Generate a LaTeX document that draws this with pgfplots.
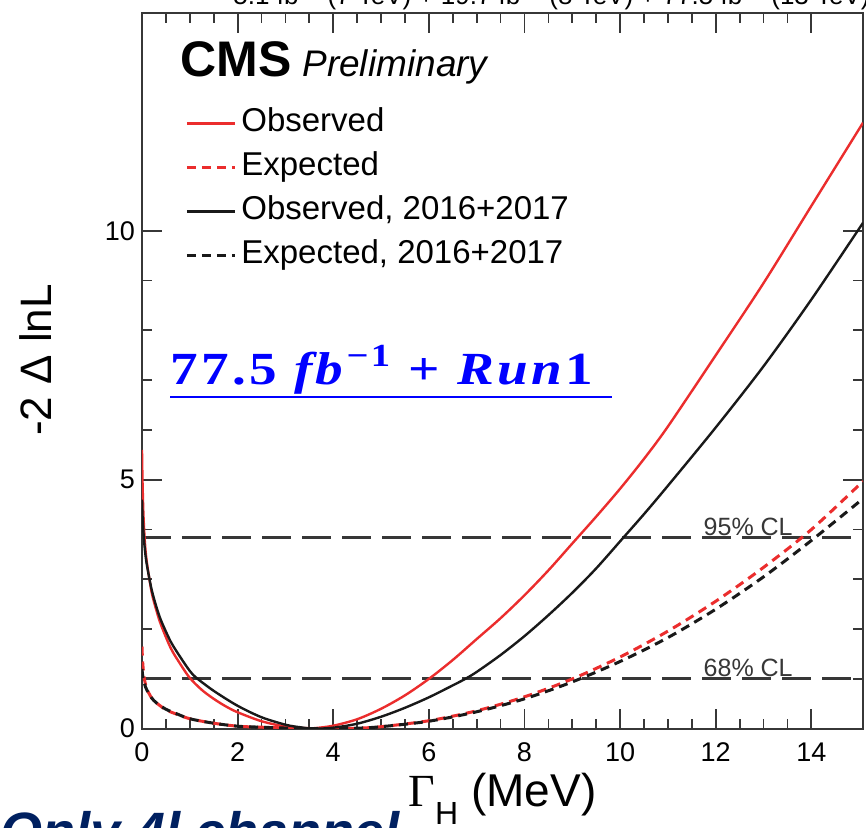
\documentclass[border=0pt]{standalone}
\usepackage{pgfplots}
\pgfplotsset{compat=1.18}
\usepackage{fontspec}
\setmainfont{Liberation Sans}
\newfontfamily\seriffont{Liberation Serif}
\newfontfamily\blueserif[LetterSpace=6]{Liberation Serif}
\definecolor{obsred}{RGB}{235,45,45}
\definecolor{framecol}{RGB}{55,55,55}
\definecolor{navy}{RGB}{0,32,96}

\begin{document}
\begin{tikzpicture}
\begin{axis}[
  at={(0,0)}, anchor=south west,
  scale only axis, width=360.5pt, height=358pt,
  xmin=0, xmax=15.08, ymin=0, ymax=14.38,
  xtick={0,2,...,14}, ytick={0,5,10},
  minor x tick num=3, minor y tick num=4,
  tick align=inside,
  major tick length=10pt, minor tick length=5pt,
  axis line style={line width=1.1pt, framecol},
  tick style={line width=0.9pt, framecol},
  ticklabel style={font=\fontsize{13.5}{14}\selectfont},
  /pgf/number format/assume math mode=true,
  xticklabel style={yshift=-3.5pt},
  xlabel={{\seriffont Γ}\raisebox{-9pt}{\fontsize{16}{16}\selectfont H} (MeV)},
  xlabel style={font=\fontsize{23}{24}\selectfont, at={(axis description cs:0.5,-0.109)}, anchor=base},
  ylabel={-2 Δ lnL},
  ylabel style={font=\fontsize{22}{24}\selectfont, at={(axis description cs:-0.148,0.515)}, anchor=center},
  legend style={at={(axis description cs:0.0596,0.8711)}, anchor=north west,
    draw=none, fill=none, inner sep=0pt, row sep=4pt,
    font=\fontsize{16.5}{18}\selectfont,
    nodes={text height=12pt, text depth=4pt, inner sep=1pt},
    /tikz/every odd column/.style={column sep=1.5pt}},
  legend cell align=left,
  legend image code/.code={\draw[#1] (0pt,0pt) -- (24pt,0pt);},
]
% 95% and 68% CL lines
\addplot[framecol, line width=1.5pt, dash pattern=on 14.5pt off 5.5pt, forget plot] coordinates {(0,3.84) (15.08,3.84)};
\addplot[framecol, line width=1.5pt, dash pattern=on 14.5pt off 5.5pt, forget plot] coordinates {(0,1.0) (15.08,1.0)};

% observed
\addplot[obsred, line width=1.2pt, smooth] coordinates {
(0,5.6) (0.01,5.0) (0.03,4.3) (0.06,3.75) (0.1,3.35) (0.2,2.75) (0.3,2.38) (0.4,2.08)
(0.6,1.62) (0.8,1.3) (1.0,1.02) (1.25,0.78) (1.5,0.6) (1.75,0.45) (2.0,0.33) (2.5,0.15)
(3.0,0.04) (3.3,0.0) (3.6,0.01) (4.0,0.06) (4.5,0.19) (5.0,0.4) (5.5,0.67) (6.0,1.0)
(6.5,1.38) (7.0,1.8) (7.5,2.22) (8.0,2.68) (8.5,3.18) (9.0,3.72) (9.5,4.26) (10,4.82)
(10.5,5.42) (11,6.07) (12,7.5) (13,8.95) (14,10.5) (15.08,12.17)};
% expected
\addplot[obsred, line width=1.5pt, dash pattern=on 4.5pt off 3pt, smooth] coordinates {
(0,1.65) (0.01,1.4) (0.03,1.15) (0.06,0.95) (0.1,0.8) (0.2,0.62) (0.3,0.52) (0.5,0.38)
(0.7,0.3) (1.0,0.2) (1.5,0.11) (2.0,0.05) (2.5,0.03) (3.0,0.015) (3.5,0.004) (4.0,0.0)
(4.5,0.01) (5.0,0.04) (6.0,0.16) (7.0,0.36) (8.0,0.64) (9.0,1.0) (10.0,1.44) (11.0,1.96)
(12.0,2.56) (13.0,3.24) (14.0,4.0) (15.08,4.97)};
% observed 2016+2017
\addplot[black!90, line width=1.2pt, smooth] coordinates {
(0,4.6) (0.01,4.3) (0.03,3.95) (0.06,3.6) (0.1,3.3) (0.2,2.8) (0.3,2.45) (0.4,2.17)
(0.6,1.75) (0.8,1.44) (1.0,1.16) (1.14,1.02) (1.5,0.76) (2.0,0.46) (2.5,0.23) (3.0,0.08)
(3.3,0.03) (3.6,0.0) (4.0,0.02) (4.5,0.1) (5.0,0.24) (5.5,0.42) (6.0,0.63) (6.5,0.87)
(6.76,1.0) (7.0,1.14) (7.5,1.48) (8.0,1.86) (8.5,2.28) (9.0,2.73) (9.5,3.22) (10.07,3.84)
(10.5,4.31) (11,4.88) (12,6.05) (13,7.28) (14,8.62) (15.08,10.16)};
% expected 2016+2017
\addplot[black!90, line width=1.5pt, dash pattern=on 4.5pt off 3pt, smooth] coordinates {
(0,1.2) (0.01,1.1) (0.03,0.98) (0.06,0.88) (0.1,0.78) (0.2,0.62) (0.3,0.52) (0.5,0.39)
(0.7,0.31) (1.0,0.2) (1.5,0.11) (2.0,0.05) (2.5,0.03) (3.0,0.013) (3.5,0.004) (4.0,0.0)
(4.5,0.01) (5.0,0.04) (6.0,0.15) (7.0,0.34) (8.0,0.6) (9.0,0.94) (10.0,1.35) (11.0,1.83)
(12.0,2.4) (13.0,3.05) (14.0,3.78) (15.08,4.62)};
\legend{Observed, Expected, {Observed, 2016+2017}, {Expected, 2016+2017}}

\node[anchor=base west, inner sep=0pt, text=framecol, font=\fontsize{12.5}{13}\selectfont] at (axis cs:11.74,3.84) [yshift=1.2pt] {95\% CL};
\node[anchor=base west, inner sep=0pt, text=framecol, font=\fontsize{12.5}{13}\selectfont] at (axis cs:11.74,1.0) [yshift=1.2pt] {68\% CL};
\end{axis}

\node[anchor=base west, inner sep=0pt, font=\fontsize{25}{27}\selectfont\bfseries] at (19pt,325.85pt) {CMS};
\node[anchor=base west, inner sep=0pt, font=\fontsize{18.5}{20}\selectfont\itshape] at (80pt,325.85pt) {Preliminary};
\node[anchor=base east, inner sep=0pt, font=\fontsize{13}{14}\selectfont] at (364pt,361.85pt)
  {5.1 fb\textsuperscript{−1} (7 TeV) + 19.7 fb\textsuperscript{−1} (8 TeV) + 77.5 fb\textsuperscript{−1} (13 TeV)};
\node[anchor=base west, inner sep=0pt, text=blue] at (14pt,171.85pt)
  {\scalebox{1.2}[1]{\fontsize{23}{25}\selectfont\blueserif\bfseries 77.5 \textit{fb}\textsuperscript{−1} + \textit{Run}1}};
\draw[blue, line width=1.4pt] (14pt,165.85pt) -- (235pt,165.85pt);
\node[anchor=base east, inner sep=0pt, text=navy, font=\fontsize{27}{28}\selectfont\bfseries\itshape] at (129pt,-61pt) {Only 4l channel};

\pgfresetboundingbox
\path[use as bounding box] (-71pt,-49.65pt) rectangle (362pt,364.35pt);
\end{tikzpicture}
\end{document}
